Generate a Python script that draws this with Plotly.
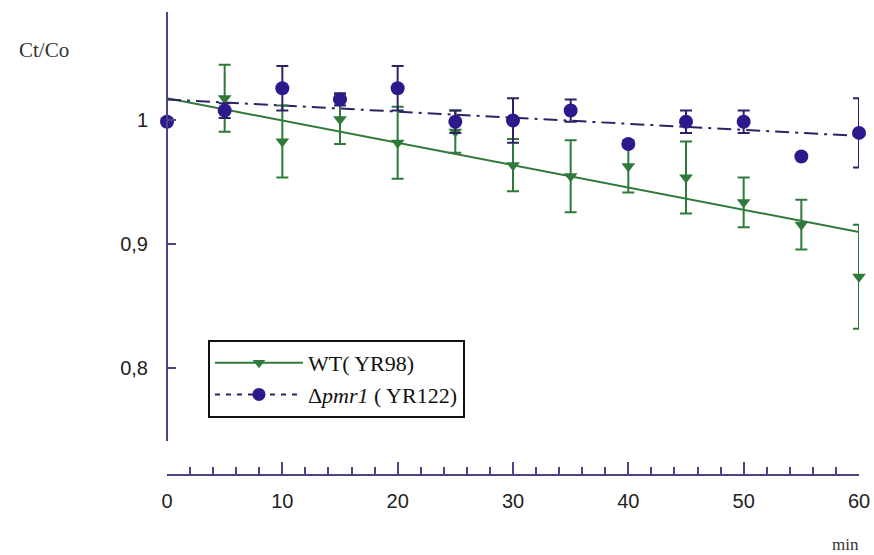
import plotly.graph_objects as go

# ---- data ----
minutes = [0, 5, 10, 15, 20, 25, 30, 35, 40, 45, 50, 55, 60]
wt_vals = [1.000, 1.018, 0.983, 1.001, 0.982, 0.991, 0.964, 0.955, 0.963, 0.954, 0.934, 0.916, 0.874]
wt_err = [0.0, 0.027, 0.029, 0.020, 0.029, 0.017, 0.021, 0.029, 0.021, 0.029, 0.020, 0.020, 0.042]
pmr_vals = [0.999, 1.008, 1.026, 1.017, 1.026, 0.999, 1.000, 1.008, 0.981, 0.999, 0.999, 0.971, 0.990]
pmr_err = [0.0, 0.006, 0.018, 0.005, 0.018, 0.009, 0.018, 0.009, 0.0, 0.009, 0.009, 0.0, 0.028]

fit_x = [0, 60]
wt_fit = [1.018, 0.910]
pmr_fit = [1.017, 0.9875]

y_tickvals = [1.0, 0.9, 0.8]
y_ticktext = ["1", "0,9", "0,8"]
x_tickvals = [0, 10, 20, 30, 40, 50, 60]

wt_name = "WT( YR98)"
pmr_name = "Δ<i>pmr1</i> ( YR122)"

GREEN = "#2f7a3b"
PURPLE = "#2c1a8c"
PURPLE_LINE = "#2b2366"
AXIS = "#4a4584"
DASH = "14px,6px,3px,6px"

fig = go.Figure()

# fitted lines
fig.add_trace(go.Scatter(x=fit_x, y=wt_fit, mode="lines",
                         line=dict(color=GREEN, width=2), showlegend=False,
                         hoverinfo="skip"))
fig.add_trace(go.Scatter(x=fit_x, y=pmr_fit, mode="lines",
                         line=dict(color=PURPLE_LINE, width=2, dash=DASH),
                         showlegend=False, hoverinfo="skip"))

# measured points with error bars
fig.add_trace(go.Scatter(x=minutes, y=wt_vals, mode="markers",
                         marker=dict(symbol="triangle-down", size=12, color=GREEN),
                         error_y=dict(type="data", array=wt_err, color=GREEN,
                                      thickness=2, width=6),
                         showlegend=False, cliponaxis=False))
fig.add_trace(go.Scatter(x=minutes, y=pmr_vals, mode="markers",
                         marker=dict(symbol="circle", size=14, color=PURPLE),
                         error_y=dict(type="data", array=pmr_err, color=PURPLE_LINE,
                                      thickness=2, width=6),
                         showlegend=False, cliponaxis=False))

# legend entries
fig.add_trace(go.Scatter(x=[None], y=[None], mode="lines+markers", name=wt_name,
                         line=dict(color=GREEN, width=2),
                         marker=dict(symbol="triangle-down", size=11, color=GREEN)))
fig.add_trace(go.Scatter(x=[None], y=[None], mode="lines+markers", name=pmr_name,
                         line=dict(color=PURPLE_LINE, width=2, dash="5px,6px"),
                         marker=dict(symbol="circle", size=13, color=PURPLE)))

fig.update_layout(
    width=874, height=555,
    margin=dict(l=167, r=15, t=12, b=80),
    paper_bgcolor="white", plot_bgcolor="white",
    font=dict(family="Liberation Sans, Arial, sans-serif", size=20, color="#222222"),
    xaxis=dict(range=[0, 60], anchor="free", position=0, automargin=False,
               showgrid=False, zeroline=False,
               showline=True, linecolor=AXIS, linewidth=2,
               tickmode="array", tickvals=x_tickvals,
               ticks="inside", ticklen=12, tickwidth=2, tickcolor=AXIS,
               ticklabelstandoff=8,
               tickfont=dict(family="Liberation Sans, Arial, sans-serif", size=20, color="#222222"),
               minor=dict(dtick=2, ticks="inside", ticklen=7, tickwidth=2,
                          tickcolor=AXIS, showgrid=False)),
    yaxis=dict(range=[0.7415, 1.0875], domain=[0.0734, 1], anchor="free", position=0,
               automargin=False,
               showgrid=False, zeroline=False,
               showline=True, linecolor=AXIS, linewidth=2,
               tickmode="array", tickvals=y_tickvals, ticktext=y_ticktext,
               ticks="inside", ticklen=8, tickwidth=2, tickcolor=AXIS,
               ticklabelstandoff=14,
               tickfont=dict(family="Liberation Sans, Arial, sans-serif", size=20, color="#222222")),
    legend=dict(x=0.0592, y=0.2916, xanchor="left", yanchor="top",
                bordercolor="#111111", borderwidth=2, bgcolor="white",
                itemwidth=88, tracegroupgap=0,
                font=dict(family="Liberation Serif, Times New Roman, serif", size=22, color="#111111")),
    annotations=[
        dict(text="Ct/Co", xref="paper", yref="paper", x=-0.1777, y=0.918,
             showarrow=False, xanchor="center", yanchor="middle",
             font=dict(family="Liberation Serif, Times New Roman, serif", size=21, color="#333333")),
        dict(text="min", xref="paper", yref="paper", x=0.98, y=-0.151,
             showarrow=False, xanchor="center", yanchor="middle",
             font=dict(family="Liberation Serif, Times New Roman, serif", size=17, color="#333333")),
    ],
    showlegend=True,
)

fig.write_html(
    "out.html",
    config={"displayModeBar": False},
    post_script="document.body.style.margin='0';document.body.style.overflow='hidden';",
)
